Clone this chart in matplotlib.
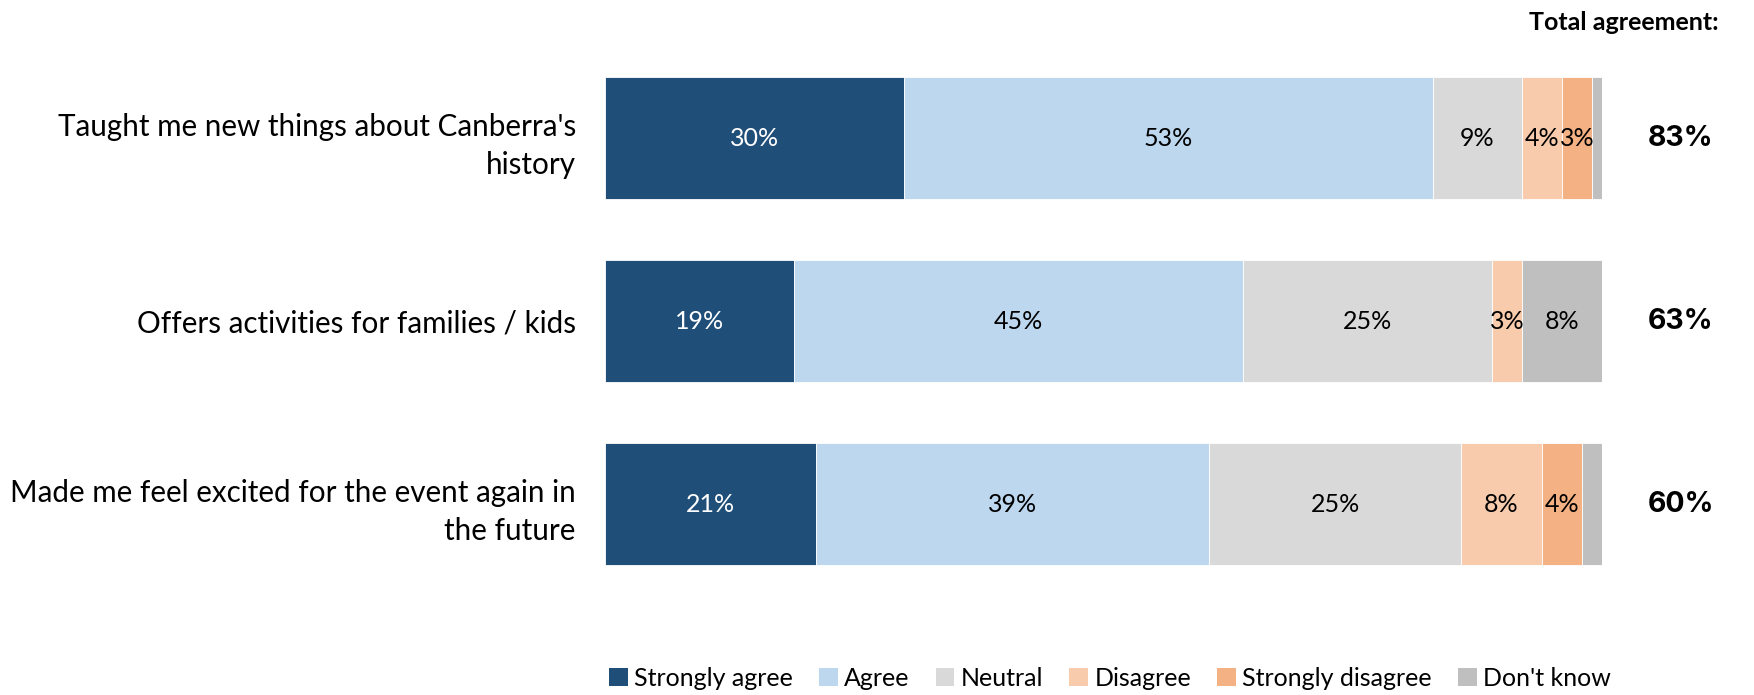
import matplotlib
matplotlib.use("Agg")
import matplotlib.pyplot as plt
from matplotlib.patches import Patch
from matplotlib import font_manager as fm
import numpy as np

categories = ["Taught me new things about Canberra's\nhistory",
              "Offers activities for families / kids",
              "Made me feel excited for the event again in\nthe future"]
series = ["Strongly agree", "Agree", "Neutral", "Disagree", "Strongly disagree", "Don't know"]
strongly_agree = [30, 19, 21]
agree = [53, 45, 39]
neutral = [9, 25, 25]
disagree = [4, 3, 8]
strongly_disagree = [3, 0, 4]
dont_know = [1, 8, 2]
total_agreement = ["83%", "63%", "60%"]

colors = ["#1F4E79", "#BDD7EE", "#D9D9D9", "#F8CBAD", "#F4B183", "#BFBFBF"]
text_colors = ["white", "black", "black", "black", "black", "black"]

avail = {f.name for f in fm.fontManager.ttflist}
body_font = "Lato" if "Lato" in avail else "DejaVu Sans"
legend_font = "Liberation Sans Narrow" if "Liberation Sans Narrow" in avail else body_font
num_font = "Inter" if "Inter" in avail else body_font

data = np.array([strongly_agree, agree, neutral, disagree, strongly_disagree, dont_know], dtype=float)
totals = data.sum(axis=0)
shares = data / totals * 100

fig = plt.figure(figsize=(17.54, 6.95), dpi=100)
ax = fig.add_axes([605/1754, 0.143, (1602-605)/1754, 0.933-0.143])

ypos = np.arange(len(categories))
left = np.zeros(len(categories))
for i, name in enumerate(series):
    ax.barh(ypos, shares[i], left=left, height=0.667, color=colors[i],
            edgecolor="white", linewidth=0.6, label=name)
    for j in range(len(categories)):
        v = data[i, j]
        if v >= 3:
            ax.text(left[j] + shares[i, j] / 2, ypos[j], f"{int(round(v))}%",
                    ha="center", va="center", color=text_colors[i],
                    fontsize=18, family=body_font)
    left += shares[i]

ax.set_xlim(0, 100)
ax.set_ylim(2.5, -0.5)
ax.set_yticks(ypos)
ax.set_yticklabels(categories, fontsize=21.3, family=body_font, linespacing=1.45)
ax.tick_params(axis="y", length=0, pad=21)
ax.set_xticks([])
for s in ax.spines.values():
    s.set_visible(False)

for j in range(len(categories)):
    ax.text(1.079, ypos[j], total_agreement[j], transform=ax.get_yaxis_transform(),
            ha="center", va="center", fontsize=20.5, fontweight="bold", family=num_font)

fig.text(1719/1754, 1 - 22/695, "Total agreement:", ha="right", va="center",
         fontsize=18, fontweight="bold", family=body_font)

handles = [Patch(facecolor=c, edgecolor="none") for c in colors]
fig.legend(handles, series, loc="center", bbox_to_anchor=(1110/1754, 1 - 678/695),
           ncol=6, frameon=False, handlelength=0.75, handleheight=0.75,
           handletextpad=0.25, columnspacing=1.05,
           prop={"family": legend_font, "size": 18})

fig.savefig("out.png", dpi=100)
